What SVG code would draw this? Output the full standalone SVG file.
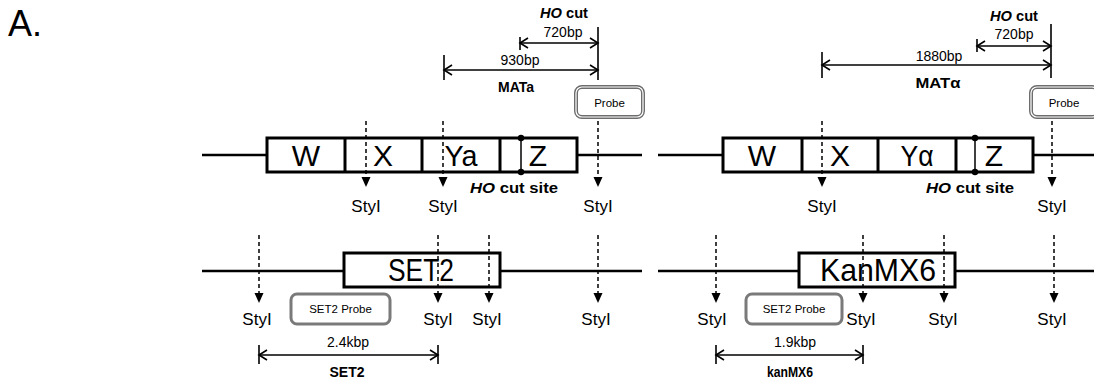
<svg xmlns="http://www.w3.org/2000/svg" width="1094" height="382" viewBox="0 0 1094 382">
<defs>
<marker id="tri" markerUnits="userSpaceOnUse" markerWidth="12" markerHeight="12" refX="0" refY="0" viewBox="-1 -6 12 12" orient="auto" overflow="visible">
<path d="M0,-4.5 L10,0 L0,4.5 Z" fill="#000"/>
</marker>
<marker id="chev" markerUnits="userSpaceOnUse" markerWidth="12" markerHeight="12" refX="0" refY="0" viewBox="-10 -6 12 12" orient="auto-start-reverse" overflow="visible">
<path d="M-8,-5 L0,0 L-8,5" fill="none" stroke="#000" stroke-width="1.6"/>
</marker>
</defs>
<style>
text{font-family:"Liberation Sans",Arial,sans-serif;fill:#000}
.big{font-size:30px;text-anchor:middle}
.big2{font-size:32px;text-anchor:middle}
.sm{font-size:17px;text-anchor:middle}
.dim{font-size:14px;text-anchor:middle}
.bold{font-size:14px;font-weight:bold;text-anchor:middle}
.pr{font-size:11.5px;text-anchor:middle}
.dna{stroke:#000;stroke-width:2.5;fill:none}
.box{stroke:#000;stroke-width:3;fill:#fff}
.div{stroke:#000;stroke-width:3}
.dash{stroke:#000;stroke-width:1.5;stroke-dasharray:4 3;fill:none;marker-end:url(#tri)}
.dl{stroke:#000;stroke-width:1.6;fill:none;marker-start:url(#chev);marker-end:url(#chev)}
.tick{stroke:#000;stroke-width:1.6}
.probe{fill:#fff;stroke:#6d6d6d;stroke-width:4}
.probein{fill:none;stroke:#fff;stroke-width:1.2}
.sprobe{fill:#fff;stroke:#7a7a7a;stroke-width:3}
</style>
<rect width="1094" height="382" fill="#fff"/>
<text x="8" y="36" style="font-size:36px">A.</text>

<g id="mata-locus">
<line class="dna" x1="202" y1="155" x2="642" y2="155"/>
<rect class="box" x="267" y="138" width="310" height="34"/>
<line class="div" x1="345" y1="138" x2="345" y2="172"/>
<line class="div" x1="422" y1="138" x2="422" y2="172"/>
<line class="div" x1="500" y1="138" x2="500" y2="172"/>
<line x1="521" y1="138" x2="521" y2="172" stroke="#000" stroke-width="1.5"/>
<circle cx="521" cy="138" r="3.2" fill="#000"/>
<circle cx="521" cy="172" r="3.2" fill="#000"/>
<text class="big" x="306" y="166">W</text>
<text class="big" x="383" y="166">X</text>
<text class="big" x="461" y="166" textLength="33" lengthAdjust="spacingAndGlyphs">Ya</text>
<text class="big" x="538" y="166">Z</text>
<text x="514" y="193" style="font-size:15px;font-weight:bold;text-anchor:middle" textLength="88" lengthAdjust="spacingAndGlyphs"><tspan font-style="italic">HO</tspan> cut site</text>
</g>

<g id="matalpha-locus">
<line class="dna" x1="658" y1="155" x2="1094" y2="155"/>
<rect class="box" x="723" y="138" width="310" height="34"/>
<line class="div" x1="802" y1="138" x2="802" y2="172"/>
<line class="div" x1="878" y1="138" x2="878" y2="172"/>
<line class="div" x1="956" y1="138" x2="956" y2="172"/>
<line x1="975" y1="138" x2="975" y2="172" stroke="#000" stroke-width="1.5"/>
<circle cx="975" cy="138" r="3.2" fill="#000"/>
<circle cx="975" cy="172" r="3.2" fill="#000"/>
<text class="big" x="762" y="166">W</text>
<text class="big" x="840" y="166">X</text>
<text class="big" x="917" y="166" textLength="33" lengthAdjust="spacingAndGlyphs">Yα</text>
<text class="big" x="994" y="166">Z</text>
<text x="970" y="193" style="font-size:15px;font-weight:bold;text-anchor:middle" textLength="88" lengthAdjust="spacingAndGlyphs"><tspan font-style="italic">HO</tspan> cut site</text>
</g>

<g id="set2-locus">
<line class="dna" x1="202" y1="271" x2="642" y2="271"/>
<rect class="box" x="344" y="253" width="156" height="34"/>
<text class="big2" x="421" y="281" textLength="66" lengthAdjust="spacingAndGlyphs">SET2</text>
</g>

<g id="kanmx6-locus">
<line class="dna" x1="658" y1="271" x2="1094" y2="271"/>
<rect class="box" x="799" y="253" width="156" height="34"/>
<text class="big2" x="878" y="281" textLength="116" lengthAdjust="spacingAndGlyphs">KanMX6</text>
</g>

<g id="probe-mata">
<rect class="probe" x="576" y="87" width="67" height="30" rx="6"/>
<rect class="probein" x="576" y="87" width="67" height="30" rx="6"/>
<text class="pr" x="609.5" y="107">Probe</text>
</g>
<g id="probe-matalpha">
<rect class="probe" x="1031" y="87" width="67" height="30" rx="6"/>
<rect class="probein" x="1031" y="87" width="67" height="30" rx="6"/>
<text class="pr" x="1064" y="107">Probe</text>
</g>
<g id="set2-probe-1">
<rect class="sprobe" x="291" y="294" width="99" height="30" rx="6"/>
<text class="pr" x="340.5" y="313">SET2 Probe</text>
</g>
<g id="set2-probe-2">
<rect class="sprobe" x="746" y="294" width="96" height="30" rx="6"/>
<text class="pr" x="794" y="313">SET2 Probe</text>
</g>

<g id="connectors">
<!-- StyI sites, top row -->
<line class="dash" x1="366" y1="121" x2="366" y2="177"/>
<line class="dash" x1="443" y1="121" x2="443" y2="177"/>
<line class="dash" x1="598" y1="121" x2="598" y2="177"/>
<line class="dash" x1="822" y1="121" x2="822" y2="177"/>
<line class="dash" x1="1052" y1="121" x2="1052" y2="177"/>
<!-- StyI sites, bottom row -->
<line class="dash" x1="259" y1="235" x2="259" y2="293"/>
<line class="dash" x1="438" y1="235" x2="438" y2="293"/>
<line class="dash" x1="489" y1="235" x2="489" y2="293"/>
<line class="dash" x1="598" y1="235" x2="598" y2="293"/>
<line class="dash" x1="716" y1="235" x2="716" y2="293"/>
<line class="dash" x1="863" y1="235" x2="863" y2="293"/>
<line class="dash" x1="944" y1="235" x2="944" y2="293"/>
<line class="dash" x1="1054" y1="235" x2="1054" y2="293"/>
<!-- MATa dimensions -->
<line class="tick" x1="598" y1="27" x2="598" y2="80"/>
<line class="tick" x1="444" y1="55" x2="444" y2="80"/>
<line class="dl" x1="444" y1="70" x2="598" y2="70"/>
<line class="tick" x1="520" y1="37" x2="520" y2="50"/>
<line class="dl" x1="520" y1="43" x2="598" y2="43"/>
<!-- MATalpha dimensions -->
<line class="tick" x1="1051" y1="24" x2="1051" y2="78"/>
<line class="tick" x1="822" y1="52" x2="822" y2="78"/>
<line class="dl" x1="822" y1="65" x2="1051" y2="65"/>
<line class="tick" x1="977" y1="39" x2="977" y2="52"/>
<line class="dl" x1="977" y1="46" x2="1051" y2="46"/>
<!-- bottom dimensions -->
<line class="tick" x1="259" y1="345" x2="259" y2="364"/>
<line class="tick" x1="438" y1="345" x2="438" y2="364"/>
<line class="dl" x1="259" y1="355" x2="438" y2="355"/>
<line class="tick" x1="716" y1="345" x2="716" y2="364"/>
<line class="tick" x1="863" y1="345" x2="863" y2="364"/>
<line class="dl" x1="716" y1="355" x2="863" y2="355"/>
</g>

<g id="labels">
<text class="sm" x="366" y="212">StyI</text>
<text class="sm" x="443" y="212">StyI</text>
<text class="sm" x="598" y="212">StyI</text>
<text class="sm" x="822" y="212">StyI</text>
<text class="sm" x="1052" y="212">StyI</text>
<text class="sm" x="257" y="325">StyI</text>
<text class="sm" x="438" y="325">StyI</text>
<text class="sm" x="487" y="325">StyI</text>
<text class="sm" x="596" y="325">StyI</text>
<text class="sm" x="712" y="325">StyI</text>
<text class="sm" x="861" y="325">StyI</text>
<text class="sm" x="943" y="325">StyI</text>
<text class="sm" x="1052" y="325">StyI</text>

<text x="564" y="18" style="font-size:15px;font-weight:bold;text-anchor:middle" textLength="48" lengthAdjust="spacingAndGlyphs"><tspan font-style="italic">HO</tspan> cut</text>
<text class="dim" x="563" y="37">720bp</text>
<text class="dim" x="520" y="65">930bp</text>
<text class="bold" x="516" y="92">MATa</text>

<text x="1014" y="21" style="font-size:15px;font-weight:bold;text-anchor:middle" textLength="48" lengthAdjust="spacingAndGlyphs"><tspan font-style="italic">HO</tspan> cut</text>
<text class="dim" x="1014" y="39">720bp</text>
<text class="dim" x="939" y="61">1880bp</text>
<text class="bold" x="938" y="88" textLength="45" lengthAdjust="spacingAndGlyphs">MATα</text>

<text class="dim" x="348" y="347">2.4kbp</text>
<text class="bold" x="347" y="377">SET2</text>
<text class="dim" x="795" y="347">1.9kbp</text>
<text class="bold" x="790" y="377" textLength="46" lengthAdjust="spacingAndGlyphs">kanMX6</text>
</g>
</svg>
